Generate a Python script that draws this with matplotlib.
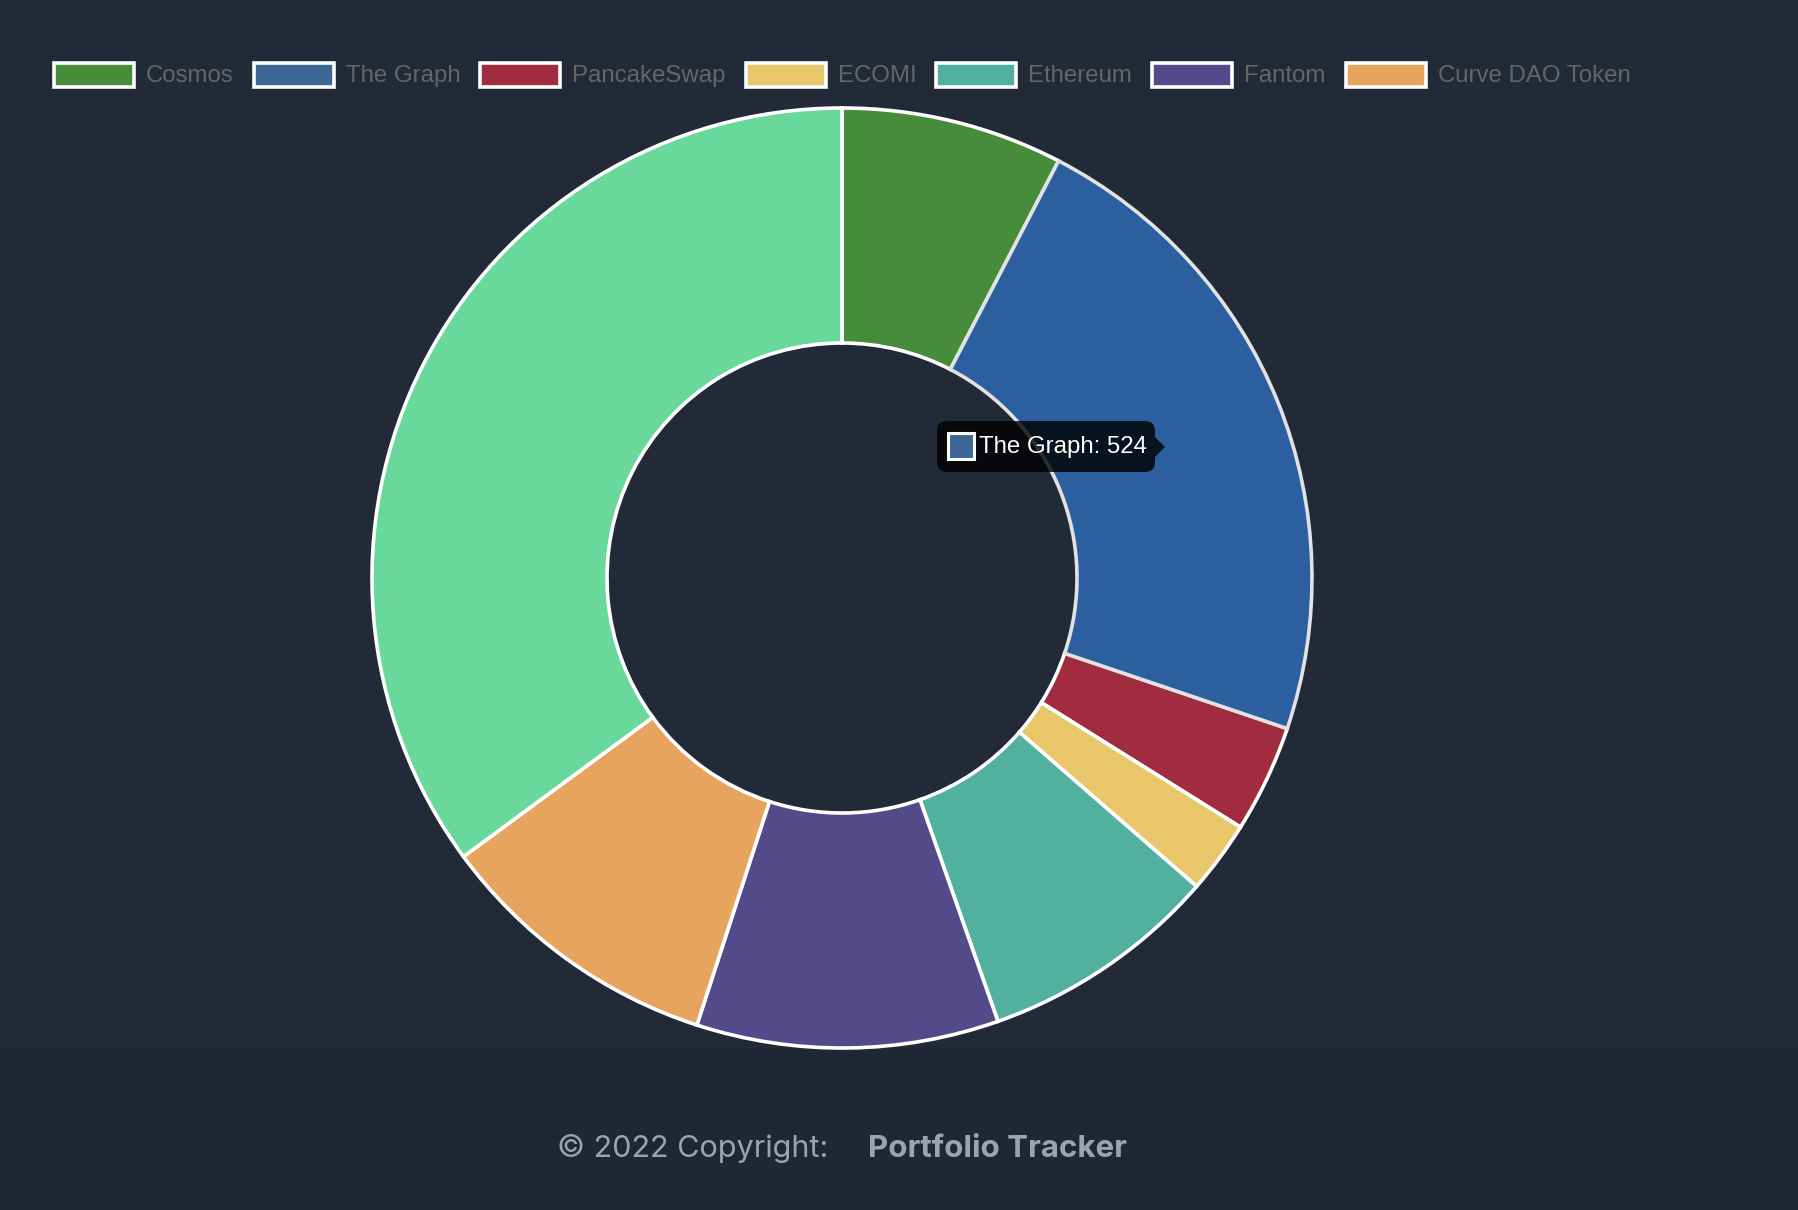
import matplotlib
matplotlib.use("Agg")
import matplotlib.pyplot as plt
from matplotlib.patches import Rectangle, FancyBboxPatch, Polygon

# data (the eighth slice has no legend entry)
labels = ["Cosmos", "The Graph", "PancakeSwap", "ECOMI", "Ethereum", "Fantom", "Curve DAO Token", "Other"]
values = [177, 524, 86, 58, 191, 241, 230, 815]
legend_colors = ["#478c3a", "#3d6896", "#a12c3f", "#e9c66a", "#52b09f", "#534a8a", "#e6a45e"]
slice_colors = ["#478c3a", "#2c5f9f", "#a12c3f", "#e9c66a", "#52b09f", "#534a8a", "#e6a45e", "#68d99b"]
hovered = 1

W, H = 1798, 1210
BG = "#222937"
FOOTER_BG = "#202633"
PX = 72 / 100  # pixels -> points at dpi 100

fig = plt.figure(figsize=(W / 100, H / 100), dpi=100, facecolor=BG)

# donut, y measured upwards
ax = fig.add_axes([0, 0, 1, 1])
cx, cy = 842, H - 578
wedges, _ = ax.pie(values, colors=slice_colors, startangle=90, counterclock=False,
                   radius=470, center=(cx, cy),
                   wedgeprops=dict(width=235, edgecolor="white", linewidth=2.6))
wedges[hovered].set_edgecolor("#e2e2e2")
wedges[hovered].set_zorder(3)
ax.set_xlim(0, W)
ax.set_ylim(0, H)
ax.set_aspect("equal")
ax.axis("off")

# overlay in pixel coordinates (y down)
top = fig.add_axes([0, 0, 1, 1], zorder=5)
top.set_xlim(0, W)
top.set_ylim(H, 0)
top.axis("off")
top.patch.set_alpha(0)

# footer band
ax.add_patch(Rectangle((0, 0), W, H - 1050, color=FOOTER_BG, zorder=0))

# legend
fig.canvas.draw()
renderer = fig.canvas.get_renderer()
leg_font = dict(family=["Liberation Sans", "DejaVu Sans"], fontsize=24 * PX, color="#666666")
widths = []
for lab in labels[:7]:
    t = top.text(0, 0, lab, **leg_font)
    widths.append(t.get_window_extent(renderer).width)
    t.remove()
box_w, box_h, gap = 80, 24, 20
total = sum(box_w + 12 + w for w in widths) + gap * (len(widths) - 1)
x = cx - total / 2
ly = 75
for lab, col, w in zip(labels[:7], legend_colors, widths):
    top.add_patch(Rectangle((x, ly - box_h / 2), box_w, box_h, facecolor=col,
                            edgecolor="white", linewidth=2.6))
    top.text(x + box_w + 12, ly + 1, lab, va="center", ha="left", **leg_font)
    x += box_w + 12 + w + gap

# tooltip
top.add_patch(FancyBboxPatch((937, 421), 218, 51, boxstyle="round,pad=0,rounding_size=10",
                             facecolor="black", alpha=0.8, edgecolor="none"))
top.add_patch(Polygon([(1155, 437), (1165, 447), (1155, 457)], closed=True,
                      facecolor="black", alpha=0.8, edgecolor="none"))
top.add_patch(Rectangle((948, 433), 26, 26, facecolor=legend_colors[hovered],
                        edgecolor="white", linewidth=2.2))
top.text(979, 447, f"{labels[hovered]}: {values[hovered]}", va="center", ha="left",
         family=["Liberation Sans", "DejaVu Sans"], fontsize=24 * PX, color="white")

# footer text
top.text(557, 1157, "© 2022 Copyright:", va="baseline", ha="left",
         family=["Inter", "DejaVu Sans"], fontsize=30.6 * PX, color="#9ca3af")
top.text(868, 1157, "Portfolio Tracker", va="baseline", ha="left",
         family=["Inter", "DejaVu Sans"], fontsize=31.3 * PX, color="#9ca3af", fontweight="bold")

fig.savefig("out.png", dpi=100, facecolor=BG)
